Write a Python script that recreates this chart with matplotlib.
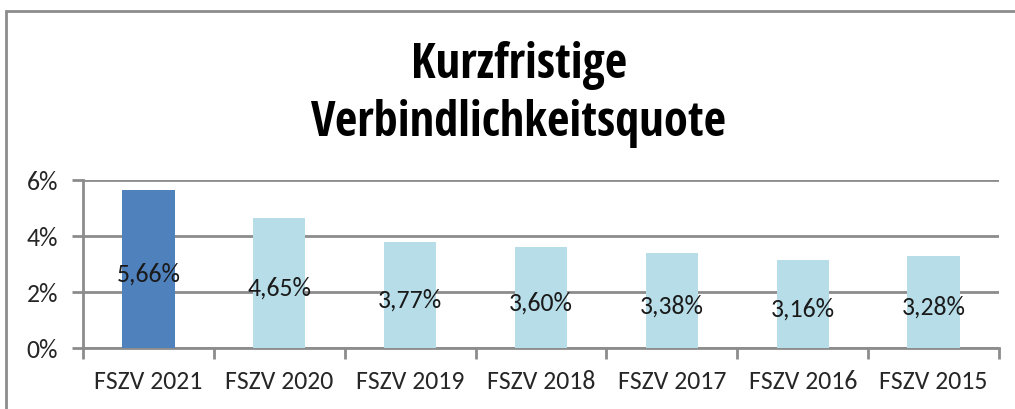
import matplotlib.pyplot as plt
from matplotlib.patches import Rectangle
from matplotlib.ticker import FuncFormatter

# Werte aus dem Diagramm
categories = ['FSZV 2021', 'FSZV 2020', 'FSZV 2019', 'FSZV 2018', 'FSZV 2017', 'FSZV 2016', 'FSZV 2015']
values = [5.66, 4.65, 3.77, 3.60, 3.38, 3.16, 3.28]
labels = ['5,66%', '4,65%', '3,77%', '3,60%', '3,38%', '3,16%', '3,28%']
colors = ['#4F81BD'] + ['#B7DDE8'] * 6

fig = plt.figure(figsize=(10.15, 4.10), dpi=100)
ax = fig.add_axes([83 / 1015, 1 - 349 / 410, 916 / 1015, 168 / 410])

x = range(len(categories))
bars = ax.bar(x, values, width=0.4, color=colors, zorder=3)

# Datenbeschriftung in der Mitte der Balken
for b, lab in zip(bars, labels):
    ax.text(b.get_x() + b.get_width() / 2, b.get_height() / 2 - 0.15, lab,
            ha='center', va='center', fontsize=18.5, color='#1a1a1a',
            family='Carlito', zorder=4)

ax.set_xlim(-0.5, len(categories) - 0.5)
ax.set_ylim(0, 6)
ax.set_yticks([0, 2, 4, 6])
ax.yaxis.set_major_formatter(FuncFormatter(lambda v, p: f'{int(v)}%'))
ax.grid(axis='y', color='#8c8c8c', linewidth=2, zorder=0)

# Striche zwischen den Kategorien
ax.set_xticks([i + 0.5 for i in range(-1, len(categories))], minor=False)
ax.set_xticklabels([])
ax.set_xticks(list(x), minor=True)
ax.set_xticklabels(categories, minor=True)
ax.tick_params(axis='x', which='major', length=8, width=2, color='#8c8c8c')
ax.tick_params(axis='x', which='minor', length=0, pad=15)
ax.tick_params(axis='y', length=8, width=2, color='#8c8c8c', pad=10)
for t in ax.get_xticklabels(minor=True) + ax.get_yticklabels():
    t.set_fontsize(18.5)
    t.set_family('Carlito')
    t.set_color('#262626')

for s in ['top', 'right']:
    ax.spines[s].set_visible(False)
for s in ['left', 'bottom']:
    ax.spines[s].set_color('#8c8c8c')
    ax.spines[s].set_linewidth(2)

fig.text(0.511, 1 - 66 / 410, 'Kurzfristige', ha='center', va='center',
         fontsize=35, fontweight='bold', family='Open Sans Condensed')
fig.text(0.511, 1 - 124 / 410, 'Verbindlichkeitsquote', ha='center', va='center',
         fontsize=35, fontweight='bold', family='Open Sans Condensed')

# Rahmen des Diagramms
fig.patches.append(Rectangle((6 / 1015, -0.1), 1.2, 1 - 12 / 410 + 0.1,
                             transform=fig.transFigure, fill=False,
                             edgecolor='#8c8c8c', linewidth=2))

fig.savefig('out.png', dpi=100)
